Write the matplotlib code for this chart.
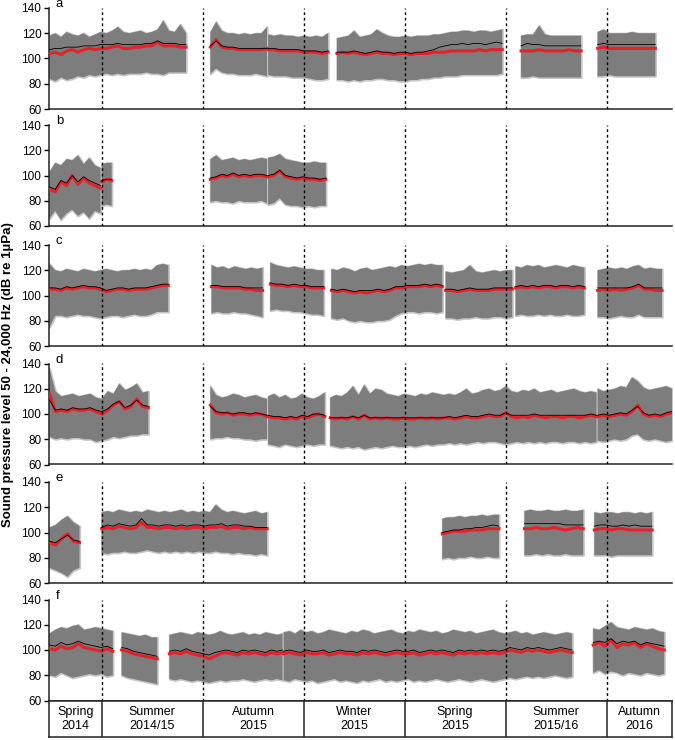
import numpy as np
import matplotlib
matplotlib.use("Agg")
import matplotlib.pyplot as plt

plt.rcParams['font.family'] = ['Liberation Sans', 'DejaVu Sans']

# days counted from the start of Summer 2014/15
season_edges = [-47.5, 0, 91, 182, 273, 364, 455, 514]
season_names = ['Spring\n2014', 'Summer\n2014/15', 'Autumn\n2015', 'Winter\n2015',
                'Spring\n2015', 'Summer\n2015/16', 'Autumn\n2016']

# ---- panel a ----
a_spans = [(-47, 76), (98, 149), (150, 204), (212, 361), (378, 432), (447, 499)]
a_upper = [[118,120,117,121,119,118,120,117,119,121,120,122,125,121,120,121,122,120,121,123,130,122,121,127,120],
           [121,129,122,120,120,119,120,119,120,120,125],
           [119,118,119,118,118,117,118,117,118,117,120],
           [116,117,118,122,117,118,119,123,120,118,117,117,118,117,118,118,118,119,119,120,121,121,122,122,121,122,122,121,122,123],
           [118,119,119,126,119,118,118,118,118,118,118],
           [121,123,120,120,120,120,121,120,120,120,120]]
a_lower = [[84,82,85,83,84,86,85,87,86,87,88,87,88,87,88,88,88,89,88,88,87,89,89,89,89],
           [88,92,89,88,88,87,87,87,88,87,86],
           [87,86,86,86,85,85,85,84,83,83,84],
           [83,83,82,83,82,83,83,84,84,83,83,82,82,83,83,84,84,85,85,86,86,86,87,87,87,87,87,87,87,88],
           [85,85,86,85,85,85,85,85,85,85,85],
           [86,86,87,86,86,86,86,86,86,86,86]]
a_median = [[104,105,103,106,107,105,107,108,107,108,108,109,110,108,108,109,109,110,110,113,110,110,110,109,109],
            [109,115,109,108,108,107,107,107,107,107,108],
            [107,107,106,106,106,106,105,105,105,104,105],
            [104,105,104,105,104,103,104,105,104,104,103,104,104,103,104,104,104,105,105,105,106,106,106,106,106,107,106,107,107,107],
            [106,106,106,107,106,106,106,106,107,106,106],
            [108,109,108,108,108,108,108,108,108,108,108]]
a_mean = [[107,108,108,109,109,109,110,110,110,111,111,111,112,111,111,111,111,112,112,114,112,112,112,111,111],
          [110,114,110,109,109,108,108,108,108,108,108],
          [108,108,107,107,107,107,106,106,106,105,106],
          [105,105,105,106,105,104,105,106,105,105,104,105,105,104,105,105,106,107,109,110,111,111,112,111,112,112,111,112,113,112],
          [110,112,111,111,110,110,110,110,110,110,110],
          [111,112,111,111,111,111,111,111,111,111,111]]

# ---- panel b ----
b_spans = [(-47, -1), (0, 9), (98, 149), (150, 202)]
b_upper = [[103,110,108,113,112,116,109,114,108,106],
           [109,110,110],
           [113,116,112,113,114,112,113,112,113,114,113],
           [114,115,117,113,112,111,110,110,111,110,110]]
b_lower = [[66,72,65,70,73,68,71,66,72,70],
           [76,77,76],
           [79,80,79,79,78,80,79,79,79,80,78],
           [77,78,82,77,76,76,75,76,75,76,76]]
b_median = [[89,87,95,92,100,93,98,94,92,90],
            [95,97,96],
            [97,98,100,99,101,99,100,99,100,100,99],
            [99,100,104,99,98,97,98,97,97,96,97]]
b_mean = [[91,89,96,94,100,95,99,96,94,92],
          [96,97,97],
          [98,99,101,100,102,100,101,100,101,101,100],
          [100,101,104,100,99,98,99,98,98,97,98]]

# ---- panel c ----
c_spans = [(-47, 60), (99, 145), (152, 200), (207, 307), (310, 370), (373, 435), (447, 505)]
c_upper = [[125,120,119,121,120,119,121,120,119,120,121,120,119,120,120,121,120,121,120,124,125,124],
           [124,122,123,121,123,122,121,122,121,122],
           [126,124,123,122,123,122,121,121,120,120],
           [121,120,122,121,119,121,122,120,121,122,123,122,124,123,124,125,124,125,124,124],
           [119,118,119,120,124,119,118,119,120,119,120,120],
           [123,122,124,123,124,122,123,124,123,122,124,123,122],
           [120,121,122,121,122,121,123,124,121,122,121,121]]
c_lower = [[75,84,84,83,84,85,84,84,83,82,83,84,84,83,84,85,84,84,85,87,87,87],
           [86,87,86,86,87,86,86,85,84,83],
           [88,89,88,88,87,87,86,85,85,84],
           [82,81,82,80,79,80,79,79,80,80,81,84,86,87,87,86,87,87,86,87],
           [82,82,81,82,82,83,82,82,83,83,82,83],
           [84,85,84,84,85,84,85,84,84,85,84,84,85],
           [83,83,82,83,84,83,83,85,83,83,83,83]]
c_median = [[105,105,104,106,105,106,107,106,106,105,103,104,105,105,104,105,105,105,106,107,108,108],
            [107,107,106,106,106,106,105,105,104,104],
            [109,108,108,107,108,107,107,106,106,106],
            [104,103,104,103,102,103,102,103,104,103,104,106,106,107,107,107,108,107,108,107],
            [104,104,103,104,105,104,104,104,105,105,105,105],
            [106,107,106,107,106,107,107,106,107,107,106,107,106],
            [104,105,104,105,104,105,106,108,105,105,104,104]]
c_mean = [[106,106,105,107,106,107,108,107,107,106,104,105,106,106,105,106,106,106,107,108,109,109],
          [108,108,107,107,107,107,106,106,106,106],
          [110,109,109,108,109,108,108,107,107,107],
          [105,104,105,104,103,104,104,104,105,104,105,107,107,108,108,108,109,108,109,108],
          [105,105,104,105,106,105,105,105,106,106,106,106],
          [107,108,107,108,107,108,108,107,108,108,107,108,107],
          [106,106,106,106,106,106,107,109,106,106,106,106]]

# ---- panel d ----
d_spans = [(-47, 42), (98, 149), (150, 201), (206, 446), (447, 514)]
d_upper = [[136,118,114,115,116,114,115,116,113,112,118,116,124,119,121,124,117,118],
           [122,115,113,114,116,115,113,114,115,113,112],
           [114,116,113,115,112,113,116,113,112,114,117],
           [113,115,114,117,122,115,123,116,120,119,116,115,114,116,115,114,116,115,117,116,115,116,115,117,
            120,116,117,119,120,118,119,122,118,117,119,118,120,117,118,119,117,118,119,120,118,117,118,117],
           [120,118,119,120,122,121,129,126,121,119,120,121,122,120]]
d_lower = [[82,80,81,80,81,81,80,80,78,79,80,82,81,82,83,83,84,84],
           [80,81,81,82,81,81,80,80,79,80,80],
           [76,75,74,76,75,74,75,76,75,76,76],
           [75,74,73,74,73,74,72,73,74,73,74,75,74,74,75,74,75,76,75,76,76,77,76,77,
            76,77,78,77,78,78,77,76,77,78,77,78,77,78,77,78,78,77,78,78,77,78,77,78],
           [79,78,79,80,79,80,83,84,80,79,80,79,78,79]]
d_median = [[116,102,103,102,104,103,103,104,102,100,103,107,110,104,106,112,106,105],
            [107,101,100,101,99,100,100,99,100,100,98],
            [98,97,97,96,97,96,98,97,99,100,98],
            [97,96,97,96,98,96,99,96,97,96,97,96,96,97,96,96,97,96,97,96,97,97,96,97,
             98,97,97,98,99,98,98,101,98,97,98,97,99,98,97,98,98,97,98,98,97,98,99,98],
            [98,99,98,99,100,99,102,107,100,98,99,98,100,101]]
d_mean = [[111,103,104,103,105,104,104,105,103,102,104,108,110,105,107,111,107,106],
          [106,102,101,101,100,101,101,100,101,100,99],
          [99,98,98,97,98,97,99,98,100,100,99],
          [97,97,97,97,98,97,99,97,97,97,97,97,97,97,97,97,97,97,97,97,97,98,97,98,
           99,98,98,99,100,99,99,101,99,99,99,99,100,99,99,99,99,99,99,99,99,99,100,99],
          [99,100,99,100,101,100,103,106,101,99,100,99,101,102]]

# ---- panel e ----
e_spans = [(-47, -20), (0, 149), (307, 358), (381, 434), (444, 496)]
e_upper = [[104,106,110,113,108,105],
           [116,117,116,118,117,116,117,116,118,117,116,117,116,117,118,116,117,116,117,116,122,118,116,117,116,115,116,117,115,116],
           [111,112,112,113,112,113,113,114,113,114,114],
           [117,118,117,117,118,117,117,118,117,117,118],
           [116,115,116,116,115,116,116,115,116,115,116]]
e_lower = [[72,70,68,65,70,72],
           [84,83,84,84,85,84,84,85,86,85,84,85,84,85,84,85,84,85,84,84,85,84,84,83,84,83,83,82,83,82],
           [79,80,79,80,80,81,80,80,81,80,80],
           [82,82,83,82,83,82,82,83,82,82,82],
           [82,82,82,81,82,82,82,82,82,82,82]]
e_median = [[92,90,95,99,93,92],
            [103,104,103,105,104,103,104,108,104,104,103,104,104,103,104,103,104,104,103,104,104,105,103,104,104,103,104,103,103,103],
            [99,100,101,101,101,102,102,102,103,103,103],
            [103,103,104,103,103,104,103,102,103,104,103],
            [102,103,103,102,103,103,102,102,102,102,102]]
e_mean = [[93,92,95,98,94,93],
          [104,106,105,107,106,105,106,111,106,106,105,106,106,105,106,105,106,106,105,106,106,107,105,106,106,105,105,104,104,104],
          [100,101,102,102,103,103,104,104,105,106,105],
          [107,107,107,107,107,107,107,106,106,106,106],
          [105,106,106,105,105,106,105,106,105,105,105]]

# ---- panel f ----
f_spans = [(-47, 10), (18, 50), (61, 163), (164, 424), (443, 507)]
f_upper = [[113,116,118,117,119,120,116,117,118,117,116,115],
           [114,113,112,111,112,110,110],
           [112,113,114,113,112,114,113,112,113,115,113,112,113,114,112,113,112,114,113,112,113],
           [114,115,113,116,114,115,113,114,116,115,114,113,115,114,116,115,113,114,115,116,114,113,115,114,116,115,
            114,115,113,114,116,115,114,115,113,114,115,116,114,113,114,115,113,114,112,113,114,113,112,113,114,113],
           [117,116,119,122,118,117,116,118,117,116,117,115,114]]
f_lower = [[80,79,82,80,78,79,80,81,80,81,79,80],
           [80,78,77,76,75,74,73],
           [77,76,77,76,75,76,75,74,75,76,75,76,76,77,76,75,76,77,76,77,76],
           [76,75,77,76,75,76,74,75,76,77,75,76,75,74,76,75,76,77,75,76,75,76,77,75,76,75,
            76,77,76,75,76,77,76,75,76,77,76,75,76,77,78,77,78,79,78,79,78,79,80,79,78,79],
           [82,84,81,83,82,80,82,81,80,82,81,80,81]]
f_median = [[101,100,103,101,102,105,102,101,100,99,101,99],
            [100,99,97,96,95,94,93],
            [97,98,97,99,97,96,95,93,95,97,98,97,96,98,97,98,97,96,98,97,98],
            [97,98,97,96,98,97,97,98,96,97,98,97,97,96,98,97,98,97,96,97,98,97,97,98,96,97,
             98,97,98,97,96,98,97,98,97,98,97,98,97,98,100,99,98,100,99,100,99,98,99,100,99,98],
            [104,106,103,108,102,105,104,106,102,105,103,101,100]]
f_mean = [[104,103,106,104,105,107,105,104,103,102,103,101],
          [102,101,99,98,97,96,95],
          [99,100,99,101,99,98,97,96,98,99,100,99,98,100,99,100,99,98,100,99,100],
          [99,100,99,98,100,99,99,100,98,99,100,99,99,98,100,99,100,99,98,99,100,99,99,100,98,99,
           100,99,100,99,98,100,99,100,99,100,99,100,99,100,102,101,100,102,101,102,101,100,101,102,101,100],
          [106,107,106,109,105,107,106,107,104,106,105,104,103]]

panels = [('a', a_spans, a_upper, a_lower, a_median, a_mean),
          ('b', b_spans, b_upper, b_lower, b_median, b_mean),
          ('c', c_spans, c_upper, c_lower, c_median, c_mean),
          ('d', d_spans, d_upper, d_lower, d_median, d_mean),
          ('e', e_spans, e_upper, e_lower, e_median, e_mean),
          ('f', f_spans, f_upper, f_lower, f_median, f_mean)]

# pixel tops of each panel in the 740 px tall figure
tops = [8, 125, 245, 363.5, 482, 599.5]
H = 740.0
left, width = 49 / 675.0, 623 / 675.0
ax_h = 101 / H

fig = plt.figure(figsize=(6.75, 7.4), dpi=100)

for (letter, spans, ups, los, meds, means), top in zip(panels, tops):
    ax = fig.add_axes([left, 1 - top / H - ax_h, width, ax_h])
    for (s, e), up, lo, md, mn in zip(spans, ups, los, meds, means):
        x = np.linspace(s, e, len(up))
        # light fringe round the range, then the solid range on top
        ax.fill_between(x, lo, up, facecolor='#7d7d7d', edgecolor='#c6c6c6', linewidth=1.6, zorder=1)
        ax.fill_between(x, lo, up, facecolor='#7d7d7d', linewidth=0, zorder=2)
        ax.plot(np.linspace(s, e, len(md)), md, color='#e8202a', lw=2.2, zorder=3)
        ax.plot(np.linspace(s, e, len(mn)), mn, color='black', lw=0.6, zorder=4)
    for b in season_edges[1:-1]:
        ax.axvline(b, color='black', lw=1.0, ls=(0, (2, 2)), zorder=5)
    ax.set_xlim(season_edges[0], season_edges[-1])
    ax.set_ylim(60, 140)
    ax.set_yticks([60, 80, 100, 120, 140])
    ax.tick_params(axis='y', direction='out', length=3.5, width=1, labelsize=8.5, pad=2)
    ax.set_xticks([])
    for sp in ['top', 'right']:
        ax.spines[sp].set_visible(False)
    for sp in ['left', 'bottom']:
        ax.spines[sp].set_linewidth(1.1)
        ax.spines[sp].set_color('#222222')
    ax.text(0.011, 1.005, letter, transform=ax.transAxes, fontsize=9.5, va='baseline', ha='left')

# season table under the last panel
tab = fig.add_axes([left, 1 - 737 / H, width, 36 / H])
tab.set_xlim(season_edges[0], season_edges[-1])
tab.set_ylim(0, 1)
tab.set_xticks([])
tab.set_yticks([])
for sp in tab.spines.values():
    sp.set_linewidth(1.1)
    sp.set_color('#222222')
for b in season_edges[1:-1]:
    tab.axvline(b, color='#222222', lw=1.1)
for i, name in enumerate(season_names):
    tab.text((season_edges[i] + season_edges[i + 1]) / 2, 0.5, name, ha='center', va='center',
             fontsize=9, linespacing=1.15)

fig.text(0.0125, 0.494, 'Sound pressure level 50 - 24,000 Hz (dB re 1µPa)', rotation=90,
         ha='center', va='center', fontsize=9.5, fontweight='bold')

fig.savefig('out.png', dpi=100)
